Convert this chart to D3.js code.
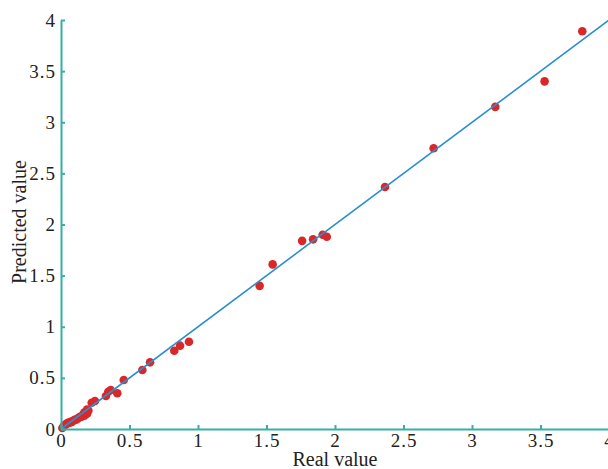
<!DOCTYPE html>
<html>
<head>
<meta charset="utf-8">
<script src="https://cdn.jsdelivr.net/npm/d3@7"></script>
<style>
  body { margin: 0; background: #fff; }
  text { font-family: "Liberation Serif", "DejaVu Serif", serif; fill: #222; }
</style>
</head>
<body>
<script>
// Real vs predicted values
const realValues = [0.01, 0.02, 0.03, 0.04, 0.05, 0.06, 0.07, 0.08, 0.09, 0.10, 0.11, 0.12, 0.13, 0.14,
  0.15, 0.16, 0.17, 0.18, 0.19, 0.20, 0.19, 0.17, 0.224, 0.248, 0.328, 0.345, 0.363, 0.411, 0.458,
  0.594, 0.65, 0.827, 0.869, 0.934, 1.45, 1.545, 1.76, 1.84, 1.91, 1.94, 2.365, 2.72, 3.17, 3.53, 3.805];
const predictedValues = [0.01, 0.03, 0.04, 0.05, 0.06, 0.06, 0.07, 0.07, 0.08, 0.09, 0.09, 0.10, 0.11, 0.12,
  0.12, 0.14, 0.13, 0.16, 0.15, 0.18, 0.19, 0.16, 0.257, 0.274, 0.323, 0.365, 0.381, 0.349, 0.479,
  0.577, 0.652, 0.766, 0.815, 0.854, 1.40, 1.61, 1.84, 1.855, 1.90, 1.88, 2.367, 2.745, 3.15, 3.40, 3.89];
const fitLine = [[0, 0], [4, 4]];
const tickValues = [0, 0.5, 1, 1.5, 2, 2.5, 3, 3.5, 4];

const w = 608, h = 469;
const axisColor = "#3aaea6";

const x = d3.scaleLinear().domain([0, 4]).range([61, 609]);
const y = d3.scaleLinear().domain([0, 4]).range([429, 20]);

const svg = d3.select("body").append("svg")
  .attr("width", w)
  .attr("height", h);

// points first, fitted line goes over them
svg.append("g")
  .selectAll("circle")
  .data(realValues.map((d, i) => [d, predictedValues[i]]))
  .join("circle")
  .attr("cx", d => x(d[0]))
  .attr("cy", d => y(d[1]))
  .attr("r", 4.3)
  .attr("fill", "#d9282a");

svg.append("path")
  .datum(fitLine)
  .attr("d", d3.line().x(d => x(d[0])).y(d => y(d[1])))
  .attr("fill", "none")
  .attr("stroke", "#2a8fcf")
  .attr("stroke-width", 1.6);

// x axis, ticks pointing into the plot
const xAxis = svg.append("g")
  .attr("transform", `translate(0,${y(0)})`)
  .call(d3.axisBottom(x).tickValues(tickValues).tickFormat(d3.format("")).tickSizeInner(-4).tickSizeOuter(0).tickPadding(8));

// y axis
const yAxis = svg.append("g")
  .attr("transform", `translate(${x(0)},0)`)
  .call(d3.axisLeft(y).tickValues(tickValues).tickFormat(d3.format("")).tickSizeInner(-4).tickSizeOuter(0).tickPadding(5));

[xAxis, yAxis].forEach(a => {
  a.select(".domain").attr("stroke", axisColor).attr("stroke-width", 2);
  a.selectAll(".tick line").attr("stroke", axisColor).attr("stroke-width", 2);
  a.selectAll(".tick text")
    .attr("font-family", "Liberation Serif, serif")
    .attr("font-size", 19)
    .attr("letter-spacing", "1px")
    .attr("fill", "#222");
});
xAxis.selectAll(".tick text").attr("dy", "0.55em");

svg.append("text")
  .attr("x", 335)
  .attr("y", 466)
  .attr("text-anchor", "middle")
  .attr("font-size", 20)
  .text("Real value");

svg.append("text")
  .attr("transform", "translate(26,222) rotate(-90)")
  .attr("text-anchor", "middle")
  .attr("font-size", 20)
  .text("Predicted value");
</script>
</body>
</html>
